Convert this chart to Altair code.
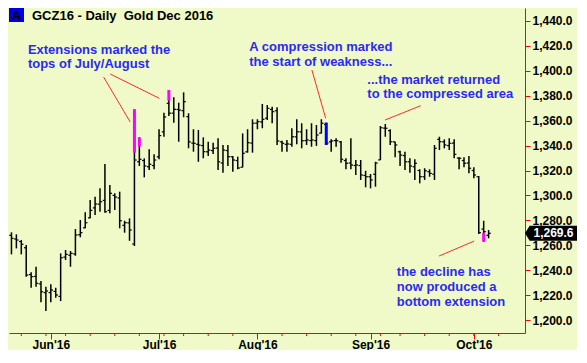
import altair as alt
import pandas as pd

# ---- daily OHLC (trading-day index 0 = 19 May 2016 ... 97 = 6 Oct 2016) ----
opens = [1268.0, 1265.0, 1263.0, 1258.0, 1236.5, 1235.0, 1229.0, 1222.0, 1222.0, 1223.0,
         1219.0, 1250.5, 1252.0, 1253.0, 1268.5, 1274.0, 1282.0, 1290.0, 1293.0, 1296.0,
         1288.0, 1300.0, 1298.0, 1276.0, 1278.0, 1261.0, 1327.0, 1328.0, 1323.0, 1324.0,
         1331.0, 1351.0, 1373.9, 1366.0, 1369.0, 1368.0, 1363.2, 1342.0, 1341.0, 1340.0,
         1335.0, 1336.0, 1338.0, 1326.0, 1336.0, 1331.0, 1328.0, 1322.6, 1335.0, 1342.0,
         1358.0, 1359.0, 1362.0, 1369.0, 1368.0, 1343.0, 1341.0, 1341.0, 1347.0, 1351.0,
         1344.0, 1344.0, 1344.0, 1350.0, 1357.0, 1343.0, 1344.0, 1343.0, 1328.0, 1326.0,
         1324.0, 1324.0, 1316.0, 1315.0, 1317.0, 1328.5, 1354.0, 1352.0, 1343.0, 1335.0,
         1332.0, 1327.0, 1323.0, 1320.0, 1315.0, 1319.0, 1317.0, 1345.0, 1343.0, 1340.0,
         1342.0, 1330.0, 1328.0, 1326.0, 1320.0, 1315.0, 1273.0, 1268.0]
highs = [1270.4, 1268.8, 1264.2, 1260.2, 1238.3, 1242.8, 1231.3, 1226.7, 1228.7, 1225.9,
         1253.5, 1256.2, 1255.4, 1273.0, 1280.3, 1286.4, 1296.3, 1299.0, 1305.7, 1325.2,
         1308.4, 1301.7, 1303.0, 1279.7, 1281.6, 1369.1, 1346.6, 1329.8, 1337.0, 1333.0,
         1353.1, 1366.4, 1384.6, 1378.7, 1374.4, 1382.7, 1365.9, 1353.1, 1352.5, 1346.6,
         1343.1, 1342.3, 1345.8, 1340.5, 1340.5, 1331.6, 1331.1, 1349.8, 1353.1, 1361.1,
         1361.1, 1373.4, 1372.6, 1371.2, 1370.7, 1343.9, 1344.5, 1353.9, 1361.1, 1357.9,
         1353.1, 1357.9, 1356.5, 1361.1, 1358.4, 1345.0, 1345.8, 1343.7, 1329.8, 1345.8,
         1328.4, 1328.4, 1319.8, 1317.2, 1327.0, 1355.7, 1357.3, 1353.1, 1343.1, 1335.9,
         1335.1, 1329.8, 1329.0, 1321.0, 1321.8, 1321.0, 1340.5, 1347.1, 1345.0, 1345.8,
         1345.0, 1330.6, 1330.6, 1331.6, 1322.6, 1315.6, 1279.7, 1272.2]
lows = [1252.7, 1257.5, 1252.7, 1234.8, 1225.9, 1226.7, 1214.2, 1207.2, 1214.2, 1217.9,
        1215.2, 1248.2, 1242.8, 1251.6, 1266.4, 1273.6, 1281.6, 1284.3, 1286.9, 1286.1,
        1285.6, 1288.3, 1273.6, 1270.1, 1263.6, 1259.4, 1323.6, 1314.5, 1320.4, 1321.0,
        1329.0, 1347.1, 1363.7, 1358.4, 1343.1, 1362.7, 1337.8, 1335.1, 1327.0, 1329.8,
        1331.6, 1333.2, 1320.4, 1318.2, 1323.6, 1319.0, 1321.0, 1322.6, 1334.3, 1334.3,
        1353.1, 1353.9, 1360.5, 1357.9, 1340.5, 1335.1, 1335.1, 1339.1, 1341.0, 1337.8,
        1340.5, 1339.1, 1339.7, 1349.8, 1340.5, 1335.1, 1339.1, 1326.2, 1321.0, 1321.0,
        1316.4, 1312.4, 1306.5, 1305.7, 1307.0, 1328.4, 1347.1, 1340.5, 1330.6, 1323.6,
        1320.4, 1318.2, 1312.4, 1309.7, 1312.4, 1315.0, 1312.4, 1336.4, 1337.8, 1336.4,
        1329.8, 1321.0, 1322.6, 1317.7, 1313.7, 1269.0, 1262.8, 1265.6]
closes = [1265.6, 1264.2, 1260.8, 1236.1, 1234.8, 1229.5, 1222.7, 1223.3, 1224.1, 1220.1,
          1250.0, 1252.7, 1253.5, 1268.2, 1270.1, 1278.1, 1288.0, 1293.1, 1294.9, 1286.9,
          1301.7, 1298.7, 1279.7, 1278.1, 1272.2, 1328.4, 1329.0, 1323.6, 1325.0, 1328.4,
          1348.0, 1363.0, 1366.0, 1369.1, 1368.5, 1375.2, 1343.0, 1341.8, 1340.4, 1335.1,
          1336.4, 1337.8, 1327.0, 1336.4, 1331.1, 1328.4, 1322.0, 1333.8, 1342.3, 1357.9,
          1359.2, 1361.1, 1369.9, 1367.2, 1343.7, 1341.8, 1341.3, 1347.1, 1351.1, 1343.9,
          1344.5, 1344.5, 1348.5, 1357.9, 1342.0, 1343.7, 1343.9, 1329.0, 1325.8, 1324.4,
          1324.4, 1316.4, 1315.0, 1312.4, 1326.0, 1354.3, 1353.9, 1343.1, 1340.5, 1332.4,
          1327.0, 1323.6, 1325.8, 1315.0, 1319.8, 1317.7, 1337.8, 1343.1, 1340.5, 1341.8,
          1333.0, 1329.8, 1325.8, 1321.8, 1316.4, 1270.1, 1270.9, 1269.6]

# highlighted "extension" segments (magenta) and the compression bar (blue)
ext_bar = [25, 26, 32, 96]
ext_low = [1334.3, 1339.1, 1376.0, 1262.8]
ext_high = [1369.1, 1346.6, 1384.6, 1270.1]
comp_bar = [64]

# time axis
month_ticks = [8, 30, 50, 73, 94]
month_labels = ["Jun'16", "Jul'16", "Aug'16", "Sep'16", "Oct'16"]
week_ticks = [2, 7, 11, 16, 21, 26, 31, 35, 40, 45, 50, 55, 60, 65, 70, 75, 79, 84, 89, 94, 99]
y_ticks = [1200, 1220, 1240, 1260, 1280, 1300, 1320, 1340, 1360, 1380, 1400, 1420, 1440]
last_price = 1269.6

# annotations
ann_text = ["Extensions marked the", "tops of July/August",
            "A compression marked", "the start of weakness...",
            "...the market returned", "to the compressed area",
            "the decline has", "now produced a", "bottom extension"]
ann_x = [3.34, 3.34, 48.34, 48.34, 72.34, 72.34, 78.34, 78.34, 78.34]
ann_y = [1413.5, 1402.0, 1415.9, 1404.1, 1389.4, 1377.8, 1235.3, 1223.3, 1211.2]

line_x1 = [18.74, 20.08, 61.08, 75.94, 86.94]
line_y1 = [1395.0, 1397.4, 1400.6, 1360.5, 1251.4]
line_x2 = [24.14, 30.08, 63.88, 83.20, 94.08]
line_y2 = [1358.9, 1377.9, 1361.9, 1372.0, 1263.4]

title_text = "GCZ16 - Daily\u00a0 Gold Dec 2016"

# ---- build ----
W, H = 516, 325
FONT = "Liberation Sans"
BG = "#EFFAC8"
BLUE_TXT = "#2A2AF2"

n = len(closes)
df = pd.DataFrame({"i": list(range(n)), "o": opens, "h": highs, "l": lows, "c": closes})
ext_df = pd.DataFrame({"i": ext_bar, "l": ext_low, "h": ext_high})
comp_df = pd.DataFrame({"i": comp_bar, "l": [lows[k] for k in comp_bar], "h": [highs[k] for k in comp_bar]})
week_df = pd.DataFrame({"i": week_ticks})
ann_df = pd.DataFrame({"t": ann_text, "i": ann_x, "p": ann_y})
line_df = pd.DataFrame({"x1": line_x1, "y1": line_y1, "x2": line_x2, "y2": line_y2})
price_df = pd.DataFrame({"p": [last_price], "t": [f"{last_price:,.1f}"]})
one = pd.DataFrame({"k": [0]})

xscale = alt.Scale(domain=[-0.5, 104.4], nice=False, zero=False)
yscale = alt.Scale(domain=[1189.6, 1450.4], nice=False, zero=False)

label_expr = " : ".join(f'datum.value == {t} ? "{lab}"' for t, lab in zip(month_ticks, month_labels)) + ' : ""'

xaxis = alt.Axis(values=month_ticks, labelExpr=label_expr, title=None, grid=False,
                 domainColor="#FF0000", tickColor="#FF0000", tickSize=6, labelPadding=0,
                 labelFont=FONT, labelFontWeight="bold", labelFontSize=12, labelColor="black",
                 labelFlush=False, labelOverlap=False)
yaxis = alt.Axis(orient="right", values=y_ticks, format=",.1f", title=None, grid=False,
                 domainColor="#FF0000", tickColor="#FF0000", tickSize=5, labelPadding=2,
                 labelFont=FONT, labelFontWeight="bold", labelFontSize=12, labelColor="black",
                 labelFlush=False, labelOverlap=False)


def X(f):
    return alt.X(f, type="quantitative", scale=xscale, axis=xaxis)


def Y(f):
    return alt.Y(f, type="quantitative", scale=yscale, axis=yaxis)


hl = alt.Chart(df).mark_rule(color="black", strokeWidth=1.5).encode(x=X("i"), y=Y("l"), y2="h")
open_tick = alt.Chart(df).transform_calculate(xl="datum.i - 0.45").mark_rule(
    color="black", strokeWidth=1.2).encode(x=X("xl"), x2="i", y=Y("o"))
close_tick = alt.Chart(df).transform_calculate(xr="datum.i + 0.45").mark_rule(
    color="black", strokeWidth=1.2).encode(x=X("i"), x2="xr", y=Y("c"))
ext = alt.Chart(ext_df).mark_rule(color="#FF00FF", strokeWidth=3).encode(x=X("i"), y=Y("l"), y2="h")
comp = alt.Chart(comp_df).mark_rule(color="#0000FF", strokeWidth=3).encode(x=X("i"), y=Y("l"), y2="h")

weeks = alt.Chart(week_df).mark_rule(color="#FF0000", strokeWidth=1).encode(
    x=X("i"), y=alt.value(H), y2=alt.value(H + 3))

lines = alt.Chart(line_df).mark_rule(color="#FF2A2A", strokeWidth=1).encode(
    x=X("x1"), y=Y("y1"), x2="x2", y2="y2")
texts = alt.Chart(ann_df).mark_text(align="left", baseline="alphabetic", font=FONT,
                                    fontWeight="bold", fontSize=13, color=BLUE_TXT).encode(
    x=X("i"), y=Y("p"), text="t:N")

# title block
a_box = alt.Chart(one).mark_rect(color="#0000DD").encode(
    x=alt.value(0), x2=alt.value(15), y=alt.value(0), y2=alt.value(14))
a_txt = alt.Chart(one).mark_text(text="A", font=FONT, fontWeight="bold", fontSize=13,
                                 color="black", align="center", baseline="middle").encode(
    x=alt.value(7.5), y=alt.value(7.5))
title = alt.Chart(one).mark_text(text=title_text, font=FONT, fontWeight="bold", fontSize=13,
                                 color="black", align="left", baseline="middle").encode(
    x=alt.value(23), y=alt.value(7.5))

# last-price flag on the right axis
flag_path = "M-1,0 L-0.82,-0.29 L1,-0.29 L1,0.29 L-0.82,0.29 Z"
flag = alt.Chart(price_df).mark_point(shape=flag_path, size=2704, filled=True, color="black",
                                      opacity=1, strokeWidth=0).encode(
    x=alt.value(W + 26), y=Y("p"))
flag_txt = alt.Chart(price_df).mark_text(font=FONT, fontWeight="bold", fontSize=12, color="white",
                                         align="center", baseline="middle").encode(
    x=alt.value(W + 28.5), y=Y("p"), text="t:N")

chart = alt.layer(weeks, lines, hl, open_tick, close_tick, ext, comp, texts,
                  a_box, a_txt, title, flag, flag_txt).properties(
    width=W, height=H, padding={"left": 0, "top": 0, "right": 0, "bottom": 0}
).configure(background=BG).configure_view(stroke=None)

chart.save("out.html", embed_options={"renderer": "svg", "actions": False})
